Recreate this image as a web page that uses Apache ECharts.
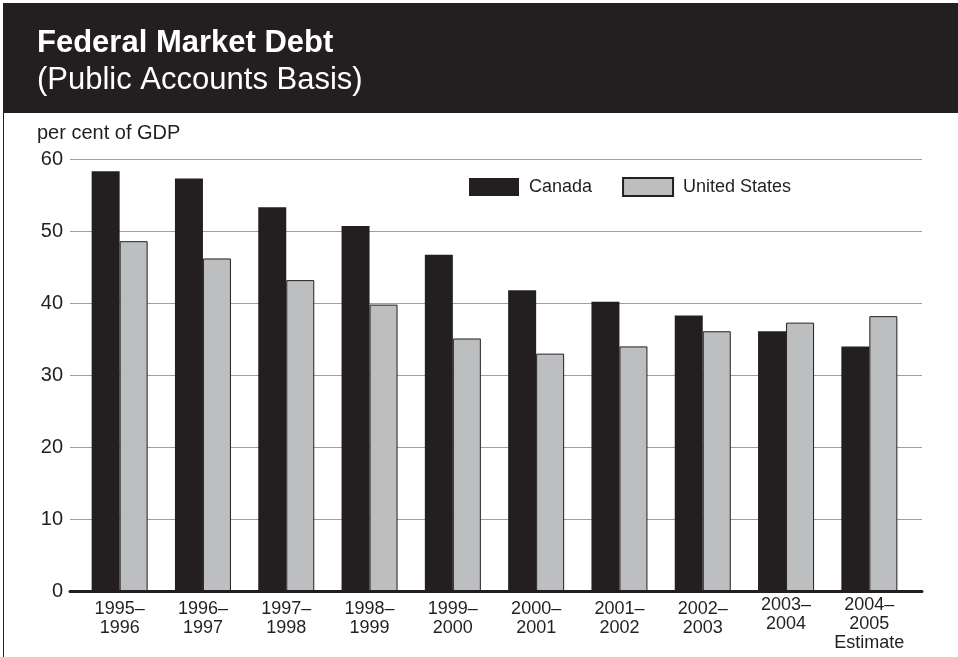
<!DOCTYPE html>
<html>
<head>
<meta charset="utf-8">
<script src="https://cdn.jsdelivr.net/npm/echarts@6/dist/echarts.min.js"></script>
<style>
  html, body { margin: 0; padding: 0; background: #fff; }
  #chart { width: 958px; height: 657px; }
</style>
</head>
<body>
<div id="chart"></div>
<script>
  var categories = ['1995–\n1996', '1996–\n1997', '1997–\n1998', '1998–\n1999', '1999–\n2000',
    '2000–\n2001', '2001–\n2002', '2002–\n2003', '2003–\n2004', '2004–\n2005\nEstimate'];
  var canada = [58.3, 57.3, 53.3, 50.7, 46.7, 41.8, 40.2, 38.3, 36.1, 34.0];
  var unitedStates = [48.6, 46.2, 43.2, 39.8, 35.1, 33.0, 34.0, 36.1, 37.3, 38.2];
  var yTicks = [0, 60, 10];   // min, max, interval

  var dark = '#231f20';
  var font = '"Liberation Sans", Arial, Helvetica, sans-serif';

  // the last two labels sit a bit higher in the original
  var catData = categories.map(function (c, i) {
    return i < 8 ? {value: c, textStyle: {padding: [4, 0, 0, 0]}} : c;
  });

  var chart = echarts.init(document.getElementById('chart'));
  chart.setOption({
    animation: false,
    backgroundColor: '#fff',
    textStyle: {fontFamily: font, color: dark},
    graphic: [
      {type: 'rect', shape: {x: 3, y: 3, width: 955, height: 110}, style: {fill: dark}, z: -1},
      {type: 'line', shape: {x1: 3.5, y1: 113, x2: 3.5, y2: 657}, style: {stroke: dark, lineWidth: 1}}
    ],
    title: [
      {text: 'Federal Market Debt', left: 32, top: 23,
        textStyle: {color: '#fff', fontSize: 31, fontWeight: 'bold', fontFamily: font}},
      {text: '(Public Accounts Basis)', left: 32, top: 60,
        textStyle: {color: '#fff', fontSize: 31, fontWeight: 'normal', fontFamily: font}},
      {text: 'per cent of GDP', left: 32, top: 118,
        textStyle: {color: dark, fontSize: 20, fontWeight: 'normal', fontFamily: font}}
    ],
    legend: {
      left: 464, top: 172,
      icon: 'rect',
      itemWidth: 50, itemHeight: 18, itemGap: 30,
      textStyle: {fontSize: 18, color: dark, fontFamily: font, padding: [0, 0, 0, 5]},
      data: ['Canada', 'United States']
    },
    grid: [
      {left: 70, right: 36, top: 159, bottom: 65.5},
      {left: 78, width: 833, top: 159, bottom: 65.5}
    ],
    xAxis: [
      {type: 'category', gridIndex: 0, data: categories, z: 5,
        axisLine: {show: true, lineStyle: {color: dark, width: 3}},
        axisTick: {show: false}, axisLabel: {show: false}, splitLine: {show: false}},
      {type: 'category', gridIndex: 1, data: catData,
        axisLine: {show: false}, axisTick: {show: false},
        axisLabel: {margin: 4, fontSize: 18, lineHeight: 19, color: dark, fontFamily: font, interval: 0}}
    ],
    yAxis: [
      {type: 'value', gridIndex: 0, min: yTicks[0], max: yTicks[1], interval: yTicks[2],
        axisLine: {show: false}, axisTick: {show: false},
        axisLabel: {margin: 7, fontSize: 20, color: dark, fontFamily: font},
        splitLine: {lineStyle: {color: '#9d9fa2', width: 1}}},
      {type: 'value', gridIndex: 1, min: yTicks[0], max: yTicks[1], interval: yTicks[2], show: false}
    ],
    series: [
      {name: 'Canada', type: 'bar', xAxisIndex: 1, yAxisIndex: 1, data: canada,
        barWidth: 28, barGap: '0%',
        itemStyle: {color: dark}},
      {name: 'United States', type: 'bar', xAxisIndex: 1, yAxisIndex: 1, data: unitedStates,
        barWidth: 28, barGap: '0%',
        itemStyle: {color: '#bcbec0', borderColor: dark, borderWidth: 1}}
    ]
  });
</script>
</body>
</html>
